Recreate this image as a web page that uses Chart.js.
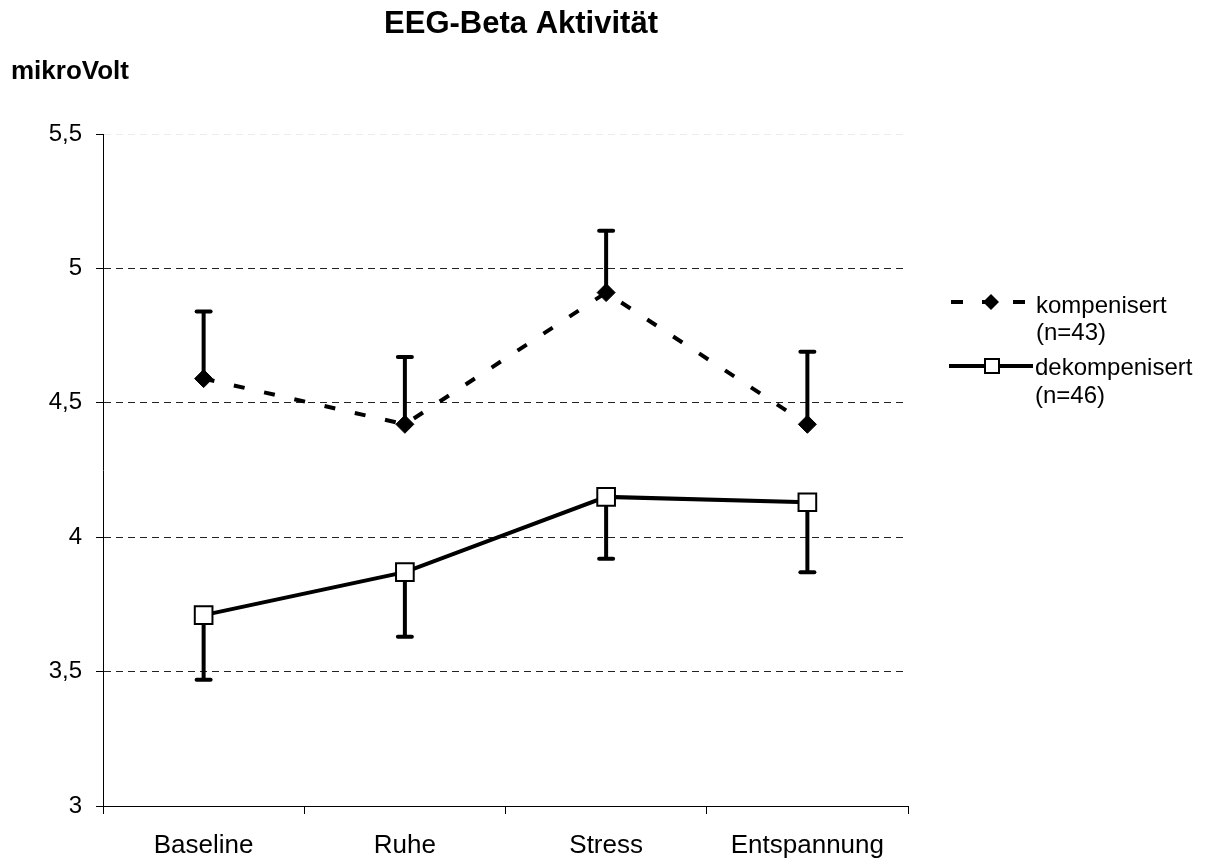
<!DOCTYPE html>
<html>
<head>
<meta charset="utf-8">
<title>EEG-Beta Aktivität</title>
<script src="https://cdn.jsdelivr.net/npm/chart.js@4/dist/chart.umd.min.js"></script>
<style>
  body { margin: 0; background: #fff; }
  #wrap { width: 1211px; height: 861px; }
</style>
</head>
<body>
<div id="wrap"><canvas id="eeg" width="1211" height="861"></canvas></div>
<script>
var messzeitpunkte = ["Baseline", "Ruhe", "Stress", "Entspannung"];
var kompensiert = [4.59, 4.42, 4.91, 4.42];
var kompensiertFehler = [0.25, 0.25, 0.23, 0.27];
var dekompensiert = [3.71, 3.87, 4.15, 4.13];
var dekompensiertFehler = [0.24, 0.24, 0.23, 0.26];
var yMin = 3, yMax = 5.5, yStep = 0.5;
var legendeKomp = ["kompenisert", "(n=43)"];
var legendeDekomp = ["dekompenisert", "(n=46)"];

var schrift = "'Liberation Sans', Arial, sans-serif";
Chart.defaults.font.family = schrift;
Chart.defaults.color = "#000";

// Fehlerbalken: kompensiert nach oben, dekompensiert nach unten
var fehlerbalken = {
	id: 'fehlerbalken',
	beforeDatasetsDraw: function (chart) {
		var ctx = chart.ctx;
		var y = chart.scales.y;
		chart.data.datasets.forEach(function (ds, i) {
			var meta = chart.getDatasetMeta(i);
			meta.data.forEach(function (pt, j) {
				var ende = y.getPixelForValue(ds.data[j] + ds.fehler[j] * ds.richtung);
				ctx.save();
				ctx.strokeStyle = "#000";
				ctx.lineWidth = 4;
				ctx.beginPath();
				ctx.moveTo(pt.x, pt.y);
				ctx.lineTo(pt.x, ende);
				ctx.stroke();
				ctx.lineCap = "round";
				ctx.beginPath();
				ctx.moveTo(pt.x - 7, ende);
				ctx.lineTo(pt.x + 7, ende);
				ctx.stroke();
				ctx.restore();
			});
		});
	}
};

// Titel, Achsentitel und Legende
var beschriftung = {
	id: 'beschriftung',
	afterDraw: function (chart) {
		var ctx = chart.ctx;
		ctx.save();
		ctx.fillStyle = "#000";
		ctx.textBaseline = "alphabetic";
		ctx.textAlign = "center";
		ctx.font = "bold 31px " + schrift;
		ctx.fillText("EEG-Beta Aktivität", 521, 33);
		ctx.textAlign = "left";
		ctx.font = "bold 26px " + schrift;
		ctx.fillText("mikroVolt", 11, 79);

		// kompensiert
		ctx.strokeStyle = "#000";
		ctx.lineWidth = 4;
		ctx.setLineDash([12, 19]);
		ctx.beginPath();
		ctx.moveTo(951, 302);
		ctx.lineTo(1025, 302);
		ctx.stroke();
		ctx.setLineDash([]);
		ctx.beginPath();
		ctx.moveTo(991, 294);
		ctx.lineTo(999, 302);
		ctx.lineTo(991, 310);
		ctx.lineTo(983, 302);
		ctx.closePath();
		ctx.fill();

		// dekompensiert
		ctx.beginPath();
		ctx.moveTo(949, 366);
		ctx.lineTo(1033, 366);
		ctx.stroke();
		ctx.fillStyle = "#fff";
		ctx.lineWidth = 2;
		ctx.fillRect(985, 359, 14, 14);
		ctx.strokeRect(985, 359, 14, 14);

		ctx.fillStyle = "#000";
		ctx.font = "24px " + schrift;
		ctx.fillText(legendeKomp[0], 1036, 313);
		ctx.fillText(legendeKomp[1], 1036, 340);
		ctx.fillText(legendeDekomp[0], 1035, 375);
		ctx.fillText(legendeDekomp[1], 1035, 403);
		ctx.restore();
	}
};

new Chart(document.getElementById("eeg"), {
	type: 'line',
	data: {
		labels: messzeitpunkte,
		datasets: [{
			label: "kompenisert (n=43)",
			data: kompensiert,
			fehler: kompensiertFehler,
			richtung: 1,
			borderColor: "#000",
			backgroundColor: "#000",
			borderWidth: 4,
			borderDash: [11, 20],
			pointStyle: 'rectRot',
			pointRadius: 9,
			pointBorderWidth: 1,
			pointBackgroundColor: "#000",
			pointBorderColor: "#000",
			fill: false,
			tension: 0
		}, {
			label: "dekompenisert (n=46)",
			data: dekompensiert,
			fehler: dekompensiertFehler,
			richtung: -1,
			borderColor: "#000",
			backgroundColor: "#fff",
			borderWidth: 4,
			pointStyle: 'rect',
			pointRadius: 12.5,
			pointBorderWidth: 2,
			pointBackgroundColor: "#fff",
			pointBorderColor: "#000",
			fill: false,
			tension: 0
		}]
	},
	options: {
		responsive: false,
		animation: false,
		events: [],
		layout: { padding: { top: 134, right: 303, left: 0, bottom: 0 } },
		plugins: {
			legend: { display: false },
			title: { display: false },
			tooltip: { enabled: false }
		},
		scales: {
			x: {
				offset: true,
				afterFit: function (scale) { scale.height = 55; },
				grid: {
					display: true,
					offset: true,
					drawOnChartArea: false,
					tickLength: 8,
					tickColor: "#000",
					tickWidth: 1
				},
				border: { display: true, color: "#000", width: 1 },
				ticks: {
					font: { size: 26 },
					color: "#000",
					padding: 16,
					maxRotation: 0
				}
			},
			y: {
				min: yMin,
				max: yMax,
				afterFit: function (scale) { scale.width = 103; },
				grid: {
					color: function (c) {
						if (c.tick && c.tick.value === yMax) return "#ececec";
						if (c.tick && c.tick.value === yMin) return "rgba(0,0,0,0)";
						return "#222";
					},
					lineWidth: 1,
					tickLength: 7,
					tickColor: "#000",
					tickWidth: 1,
					tickBorderDash: []
				},
				border: { display: true, color: "#000", width: 1, dash: [7, 5] },
				ticks: {
					stepSize: yStep,
					font: { size: 24 },
					color: "#000",
					padding: 14,
					callback: function (v) { return String(v).replace('.', ','); }
				}
			}
		}
	},
	plugins: [fehlerbalken, beschriftung]
});
</script>
</body>
</html>
